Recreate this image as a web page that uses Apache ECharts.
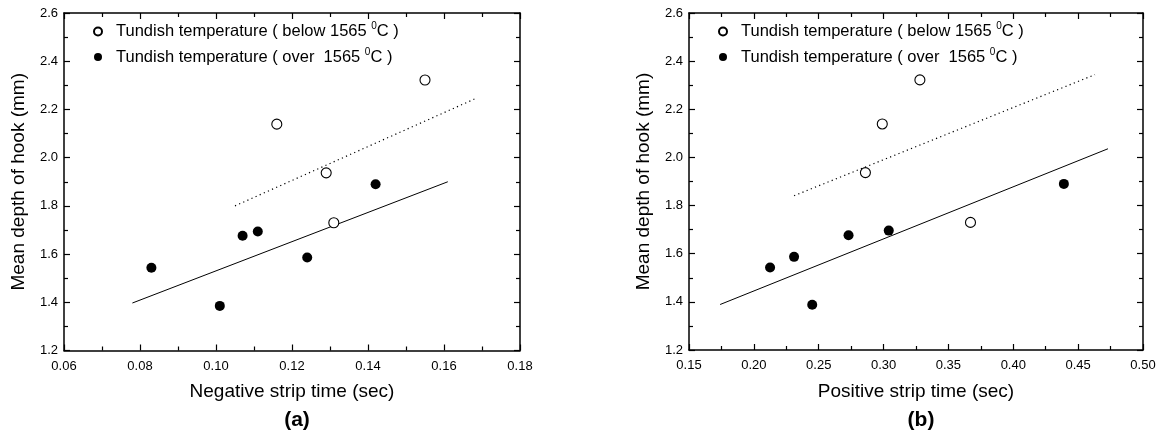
<!DOCTYPE html>
<html>
<head>
<meta charset="utf-8">
<script src="https://cdn.jsdelivr.net/npm/echarts@6/dist/echarts.min.js"></script>
<style>
html,body{margin:0;padding:0;background:#fff;}
#c{width:1159px;height:436px;}
</style>
</head>
<body>
<div id="c"></div>
<script>
// ---- data ----
const seriesNames = ['Tundish temperature ( below 1565 {sup|0}C )', 'Tundish temperature ( over  1565 {sup|0}C )'];
const panelLabels = ['(a)', '(b)'];
const xTitles = ['Negative strip time (sec)', 'Positive strip time (sec)'];
const yTitle = 'Mean depth of hook (mm)';

// panel (a): negative strip time
const negBelowX = [0.116, 0.129, 0.131, 0.155];
const negBelowY = [2.139, 1.937, 1.730, 2.322];
const negOverX = [0.083, 0.101, 0.107, 0.111, 0.124, 0.142];
const negOverY = [1.543, 1.385, 1.676, 1.694, 1.586, 1.890];
const negBelowFitX = [0.105, 0.168];
const negBelowFitY = [1.800, 2.243];
const negOverFitX = [0.078, 0.161];
const negOverFitY = [1.397, 1.900];

// panel (b): positive strip time
const posBelowX = [0.286, 0.299, 0.328, 0.367];
const posBelowY = [1.937, 2.139, 2.322, 1.730];
const posOverX = [0.2125, 0.231, 0.245, 0.273, 0.304, 0.439];
const posOverY = [1.543, 1.587, 1.388, 1.677, 1.696, 1.890];
const posBelowFitX = [0.231, 0.463];
const posBelowFitY = [1.841, 2.344];
const posOverFitX = [0.174, 0.473];
const posOverFitY = [1.389, 2.036];

// axis ranges / ticks
const xRangeA = [0.06, 0.18, 0.02];
const xRangeB = [0.15, 0.50, 0.05];
const yRange = [1.2, 2.6, 0.2];

// ---- build ----
const FONT = 'Liberation Sans, Arial, sans-serif';
const zip = (xs, ys) => xs.map((x, i) => [x, ys[i]]);

const legendNames = ['below', 'over'];
function legendFmt(name) { return name === 'below' ? seriesNames[0] : seriesNames[1]; }

function axisCommon(range, decimals, showLabel, pos, gridIndex) {
  return {
    type: 'value', gridIndex, position: pos,
    min: range[0], max: range[1], interval: range[2],
    axisLine: { show: true, onZero: false, lineStyle: { color: '#000', width: 1.5 } },
    axisTick: { show: true, inside: true, length: 6, lineStyle: { color: '#000', width: 1.2 } },
    minorTick: { show: true, splitNumber: 2, length: 4, lineStyle: { color: '#000', width: 1.2 } },
    splitLine: { show: false },
    axisLabel: {
      show: showLabel, color: '#000', fontFamily: FONT, fontSize: 13,
      margin: pos === 'bottom' ? 9 : 6,
      formatter: v => v.toFixed(decimals)
    }
  };
}

const grids = [
  { left: 64, top: 13, width: 456, height: 337.5 },
  { left: 689, top: 13, width: 454, height: 337 }
];

const xAxes = [];
const yAxes = [];
[xRangeA, xRangeB].forEach((r, g) => {
  const bx = axisCommon(r, 2, true, 'bottom', g);
  bx.name = xTitles[g];
  bx.nameLocation = 'middle';
  bx.nameGap = 32;
  bx.nameTextStyle = { color: '#000', fontFamily: FONT, fontSize: 19 };
  xAxes.push(bx);
  xAxes.push(axisCommon(r, 2, false, 'top', g));
  const ly = axisCommon(yRange, 1, true, 'left', g);
  ly.name = yTitle;
  ly.nameLocation = 'middle';
  ly.nameGap = 36;
  ly.nameTextStyle = { color: '#000', fontFamily: FONT, fontSize: 19 };
  yAxes.push(ly);
  yAxes.push(axisCommon(yRange, 1, false, 'right', g));
});

function scatter(name, xi, yi, data, open) {
  return {
    type: 'scatter', name, xAxisIndex: xi, yAxisIndex: yi,
    data, symbol: 'circle', symbolSize: 10,
    itemStyle: open ? { color: '#fff', borderColor: '#000', borderWidth: 1.1, opacity: 1 } : { color: '#000', borderColor: '#000', borderWidth: 0, opacity: 1 },
    emphasis: { disabled: true }, z: 5
  };
}
function fit(xi, yi, data, dotted) {
  return {
    type: 'line', xAxisIndex: xi, yAxisIndex: yi, data,
    symbol: 'none', silent: true,
    lineStyle: { color: '#000', width: dotted ? 1.2 : 1, type: dotted ? [1.2, 3.3] : 'solid', opacity: 1 },
    z: 3
  };
}

const series = [
  scatter('below', 0, 0, zip(negBelowX, negBelowY), true),
  scatter('over', 0, 0, zip(negOverX, negOverY), false),
  fit(0, 0, zip(negBelowFitX, negBelowFitY), true),
  fit(0, 0, zip(negOverFitX, negOverFitY), false),
  scatter('below', 2, 2, zip(posBelowX, posBelowY), true),
  scatter('over', 2, 2, zip(posOverX, posOverY), false),
  fit(2, 2, zip(posBelowFitX, posBelowFitY), true),
  fit(2, 2, zip(posOverFitX, posOverFitY), false)
];

function legend(left) {
  return {
    data: legendNames, orient: 'vertical', left, top: 16.5,
    itemWidth: 8, itemHeight: 8, itemGap: 5.6, selectedMode: false,
    formatter: legendFmt,
    textStyle: {
      color: '#000', fontFamily: FONT, fontSize: 16.5, lineHeight: 20,
      padding: [0, 0, 0, 9],
      rich: { sup: { fontFamily: FONT, fontSize: 10, lineHeight: 13, verticalAlign: 'top', color: '#000' } }
    }
  };
}

const option = {
  animation: false,
  backgroundColor: '#fff',
  title: [
    { text: panelLabels[0], left: 292, top: 405, textAlign: 'center', textStyle: { color: '#000', fontFamily: FONT, fontSize: 21, fontWeight: 'bold' } },
    { text: panelLabels[1], left: 916, top: 405, textAlign: 'center', textStyle: { color: '#000', fontFamily: FONT, fontSize: 21, fontWeight: 'bold' } }
  ],
  legend: [legend(88), legend(713)],
  grid: grids,
  xAxis: xAxes,
  yAxis: yAxes,
  series
};

const chart = echarts.init(document.getElementById('c'), null, { renderer: 'canvas' });
chart.setOption(option);
</script>
</body>
</html>
